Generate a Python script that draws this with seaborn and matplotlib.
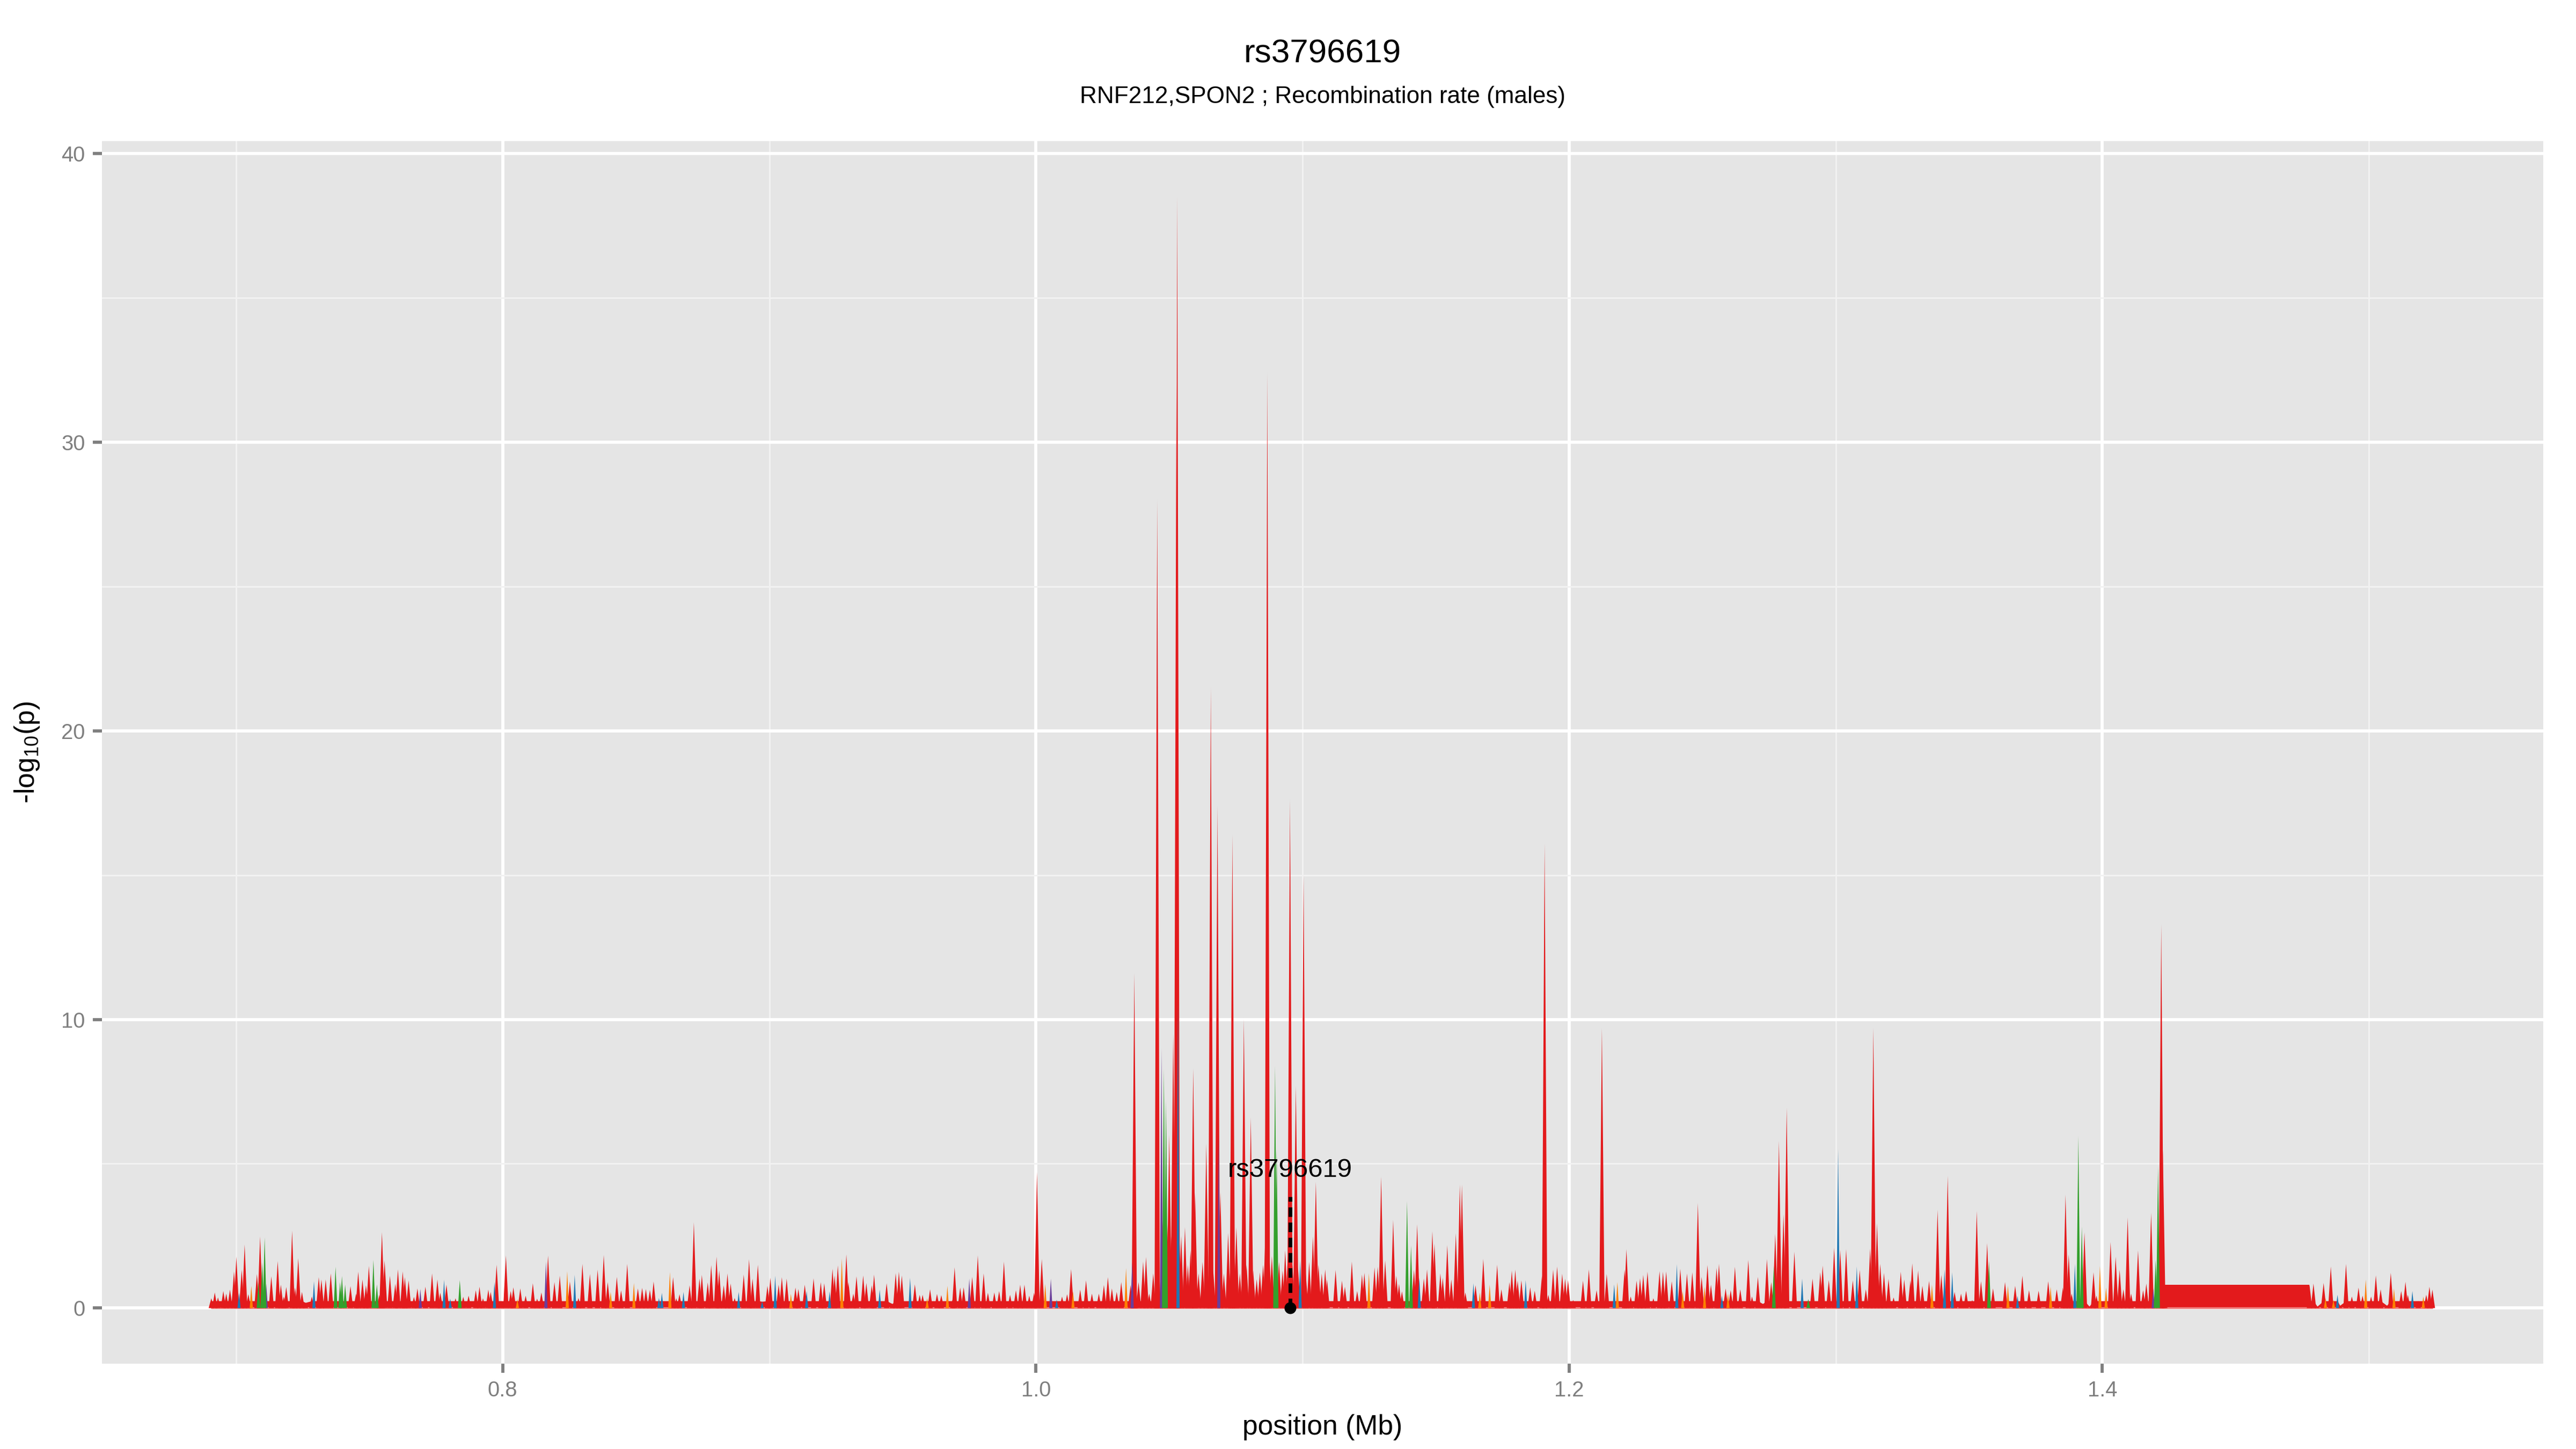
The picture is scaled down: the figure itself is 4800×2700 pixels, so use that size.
import numpy as np
import pandas as pd
import matplotlib
matplotlib.use("Agg")
import matplotlib.pyplot as plt
from matplotlib.ticker import MultipleLocator, FixedLocator
import seaborn as sns

# SNP positions (Mb), -log10(p) and LD colour class
pos = [
    0.6907, 0.6920, 0.6932, 0.6952, 0.6963, 0.6977, 0.6992, 0.7001, 0.7011, 0.7021,
    0.7032, 0.7046, 0.7057, 0.7078, 0.7084, 0.7090, 0.7098, 0.7107, 0.7113, 0.7132,
    0.7156, 0.7168, 0.7179, 0.7188, 0.7210, 0.7221, 0.7233, 0.7247, 0.7260, 0.7284,
    0.7292, 0.7310, 0.7320, 0.7336, 0.7355, 0.7373, 0.7390, 0.7397, 0.7409, 0.7429,
    0.7450, 0.7458, 0.7474, 0.7487, 0.7498, 0.7515, 0.7528, 0.7537, 0.7547, 0.7557,
    0.7577, 0.7597, 0.7607, 0.7625, 0.7633, 0.7647, 0.7667, 0.7680, 0.7691, 0.7710,
    0.7735, 0.7755, 0.7766, 0.7780, 0.7789, 0.7803, 0.7823, 0.7839, 0.7852, 0.7872,
    0.7899, 0.7913, 0.7926, 0.7946, 0.7955, 0.7969, 0.7977, 0.7994, 0.8012, 0.8030,
    0.8040, 0.8055, 0.8066, 0.8086, 0.8113, 0.8129, 0.8145, 0.8162, 0.8170, 0.8194,
    0.8214, 0.8242, 0.8252, 0.8270, 0.8284, 0.8299,
    0.8327, 0.8356, 0.8379, 0.8394, 0.8405, 0.8428, 0.8444, 0.8467, 0.8492, 0.8507,
    0.8523, 0.8537, 0.8552, 0.8566, 0.8586, 0.8597, 0.8627, 0.8639, 0.8651, 0.8663,
    0.8678, 0.8701, 0.8717, 0.8738, 0.8747, 0.8769, 0.8782, 0.8802, 0.8812, 0.8829,
    0.8843, 0.8855, 0.8870, 0.8885, 0.8904, 0.8924, 0.8937, 0.8957, 0.8973, 0.8993,
    0.9004, 0.9022, 0.9035, 0.9047, 0.9065, 0.9081, 0.9098, 0.9109, 0.9133, 0.9140,
    0.9166, 0.9193, 0.9206, 0.9226, 0.9237, 0.9245, 0.9257, 0.9272, 0.9289, 0.9297,
    0.9315, 0.9327, 0.9352, 0.9364, 0.9384, 0.9393, 0.9414, 0.9440, 0.9461, 0.9474,
    0.9486, 0.9497, 0.9528, 0.9546, 0.9564, 0.9575, 0.9592, 0.9603, 0.9629, 0.9645,
    0.9668, 0.9688,
    0.9695, 0.9716, 0.9729, 0.9750, 0.9761, 0.9782, 0.9804, 0.9820, 0.9844, 0.9862,
    0.9880, 0.9903, 0.9925, 0.9941, 0.9957, 0.9975, 0.9993, 1.0004, 1.0022, 1.0035,
    1.0056, 1.0078, 1.0098, 1.0117, 1.0132, 1.0139, 1.0166, 1.0188, 1.0210, 1.0236,
    1.0255, 1.0270, 1.0285, 1.0303, 1.0320,
    1.0338, 1.0355, 1.0361, 1.0366, 1.0369, 1.0373, 1.0385, 1.0402, 1.0413, 1.0425,
    1.0440, 1.0452, 1.0455, 1.0459, 1.0471, 1.0476, 1.0480, 1.0488, 1.0495, 1.0500,
    1.0508, 1.0515, 1.0522, 1.0527, 1.0530, 1.0533, 1.0537, 1.0545, 1.0559, 1.0570,
    1.0580, 1.0590, 1.0597, 1.0610, 1.0625, 1.0639, 1.0650, 1.0656, 1.0665, 1.0681,
    1.0686, 1.0692, 1.0705, 1.0721, 1.0730, 1.0737, 1.0745, 1.0752, 1.0765, 1.0780,
    1.0790, 1.0806, 1.0815, 1.0828, 1.0840, 1.0852, 1.0862, 1.0868, 1.0875, 1.0885,
    1.0897, 1.0903, 1.0912, 1.0925, 1.0935, 1.0945, 1.0953, 1.0962, 1.0975, 1.0983,
    1.0991, 1.1004, 1.1012, 1.1025, 1.1039, 1.1050, 1.1060, 1.1072,
    1.1085, 1.1092, 1.1124, 1.1148, 1.1159, 1.1185, 1.1205, 1.1223, 1.1232, 1.1249,
    1.1270, 1.1282, 1.1295, 1.1310, 1.1340, 1.1352, 1.1362, 1.1373, 1.1392, 1.1407,
    1.1418, 1.1430, 1.1438, 1.1455, 1.1467, 1.1487, 1.1495, 1.1517, 1.1526, 1.1543,
    1.1558, 1.1575, 1.1590, 1.1598, 1.1611, 1.1641, 1.1649, 1.1665, 1.1678, 1.1702,
    1.1730, 1.1746, 1.1776, 1.1785, 1.1798, 1.1807, 1.1821, 1.1837, 1.1854, 1.1871,
    1.1898, 1.1908, 1.1922, 1.1940, 1.1955, 1.1974, 1.1985, 1.1996, 1.2015, 1.2052,
    1.2074, 1.2103, 1.2123, 1.2141, 1.2169, 1.2181, 1.2208, 1.2215, 1.2231, 1.2253,
    1.2266, 1.2278, 1.2294, 1.2316, 1.2339, 1.2352, 1.2364, 1.2385, 1.2404, 1.2417,
    1.2426, 1.2442, 1.2462,
    1.2483, 1.2497, 1.2508, 1.2519, 1.2532, 1.2553, 1.2562, 1.2573, 1.2587, 1.2596,
    1.2606, 1.2622, 1.2642, 1.2672, 1.2686, 1.2708, 1.2726, 1.2742, 1.2758, 1.2768,
    1.2773, 1.2787, 1.2804, 1.2816, 1.2845, 1.2874, 1.2897, 1.2913, 1.2942, 1.2951,
    1.2974, 1.2994, 1.3009, 1.3017, 1.3039, 1.3064, 1.3079, 1.3090, 1.3113, 1.3129,
    1.3141, 1.3155, 1.3167, 1.3181, 1.3198, 1.3217, 1.3244, 1.3257, 1.3280, 1.3287,
    1.3309, 1.3325, 1.3350, 1.3361, 1.3382, 1.3396, 1.3408, 1.3420, 1.3437, 1.3446,
    1.3470, 1.3489, 1.3512, 1.3529, 1.3545, 1.3568, 1.3575, 1.3590, 1.3635, 1.3646,
    1.3673, 1.3682, 1.3700, 1.3725, 1.3761, 1.3797, 1.3806, 1.3829, 1.3852, 1.3862,
    1.3874, 1.3885, 1.3897, 1.3910, 1.3923, 1.3933, 1.3951, 1.3967, 1.3978, 1.3991,
    1.4014, 1.4031, 1.4050, 1.4065, 1.4079, 1.4095, 1.4108, 1.4134, 1.4153, 1.4165,
    1.4183, 1.4191, 1.4200, 1.4209, 1.4221, 1.4227, 1.4234, 1.4777, 1.4792, 1.4806,
    1.4830, 1.4837, 1.4857, 1.4867, 1.4882, 1.4891, 1.4914, 1.4936, 1.4961, 1.4976,
    1.4988, 1.5008, 1.5026, 1.5044, 1.5067, 1.5082, 1.5094, 1.5121, 1.5137, 1.5146,
    1.5163, 1.5185, 1.5204, 1.5215, 1.5227, 1.5238,
]

logp = [
    0.34, 0.54, 0.37, 0.59, 0.50, 0.64, 1.27, 1.78, 0.53, 1.33,
    2.20, 0.48, 0.77, 1.18, 0.90, 2.48, 1.58, 2.45, 0.84, 1.10,
    1.63, 0.81, 0.40, 0.73, 2.68, 0.71, 1.73, 0.56, 0.19, 0.40,
    0.93, 1.07, 0.99, 0.99, 1.20, 1.43, 0.90, 1.11, 0.81, 0.76,
    0.50, 1.26, 0.99, 0.79, 1.46, 1.67, 0.82, 0.46, 2.63, 1.65,
    1.12, 0.84, 1.34, 1.27, 1.07, 0.96, 0.39, 0.68, 0.66, 0.74,
    1.20, 0.99, 0.53, 0.98, 0.81, 0.33, 0.34, 0.97, 0.39, 0.43,
    0.62, 0.74, 0.34, 0.64, 0.56, 0.90, 1.50, 0.25, 1.82, 0.59,
    0.72, 0.31, 0.68, 0.43, 0.86, 0.33, 0.54, 1.61, 1.82, 0.90,
    1.12, 1.28, 0.92, 1.15, 0.35, 1.53,
    1.18, 1.33, 1.84, 0.90, 0.56, 1.08, 0.61, 1.53, 0.87, 0.68,
    0.70, 0.66, 0.63, 0.92, 0.35, 0.53, 1.25, 1.07, 0.34, 0.48,
    0.56, 0.79, 2.97, 1.02, 1.15, 0.89, 1.49, 1.78, 1.30, 0.79,
    1.20, 0.85, 0.35, 0.56, 1.16, 1.69, 1.02, 1.50, 0.23, 0.77,
    1.05, 1.12, 0.81, 1.07, 1.02, 0.49, 0.71, 0.66, 0.81, 0.59,
    1.03, 0.90, 0.86, 0.58, 1.36, 1.13, 1.48, 1.72, 1.86, 0.90,
    0.50, 1.10, 1.13, 0.87, 0.79, 1.16, 0.64, 0.86, 0.15, 1.21,
    1.26, 1.13, 1.05, 0.82, 0.46, 0.46, 0.34, 0.65, 0.49, 0.45,
    0.77, 0.31,
    1.41, 0.71, 0.72, 1.02, 1.08, 1.82, 1.20, 0.53, 0.54, 0.59,
    1.61, 0.46, 0.62, 0.81, 0.81, 0.43, 0.53, 4.71, 1.70, 0.84,
    1.02, 0.29, 0.40, 0.48, 1.35, 0.58, 0.64, 0.96, 0.50, 0.50,
    0.80, 1.07, 0.68, 0.56, 0.90,
    1.39, 0.80, 1.58, 1.20, 11.6, 0.90, 0.90, 1.61, 1.77, 0.50,
    1.20, 1.50, 28.0, 2.00, 9.00, 3.00, 8.30, 7.20, 3.00, 6.00,
    2.50, 9.50, 3.50, 32.0, 38.5, 10.6, 2.80, 2.50, 2.80, 1.50,
    2.00, 8.30, 4.00, 1.20, 1.60, 5.70, 1.50, 21.5, 1.30, 17.4,
    6.00, 4.00, 1.20, 2.60, 1.50, 16.4, 1.80, 2.80, 1.20, 10.0,
    1.50, 6.60, 1.30, 1.00, 1.24, 1.50, 3.00, 32.4, 2.00, 1.80,
    8.40, 5.50, 1.60, 1.30, 2.00, 1.80, 17.6, 1.50, 7.70, 1.40,
    1.64, 15.0, 1.20, 1.60, 2.48, 4.37, 1.50, 1.20,
    1.34, 0.99, 1.32, 0.95, 0.74, 1.61, 0.59, 1.16, 1.22, 1.21,
    1.41, 1.43, 4.55, 1.65, 3.05, 1.12, 0.84, 0.58, 3.70, 2.17,
    1.33, 2.90, 1.05, 1.03, 1.34, 2.66, 2.23, 1.20, 1.05, 2.18,
    0.99, 2.59, 4.28, 4.28, 0.54, 0.86, 0.79, 0.54, 1.70, 0.81,
    1.50, 0.65, 0.90, 1.30, 1.33, 0.95, 0.96, 0.97, 0.72, 0.60,
    1.12, 16.1, 0.46, 1.33, 1.44, 1.19, 1.02, 0.97, 0.28, 0.95,
    1.34, 0.62, 9.70, 1.18, 0.82, 0.90, 1.33, 2.04, 0.40, 0.95,
    1.03, 1.15, 1.26, 0.34, 1.28, 1.26, 1.27, 0.93, 1.52, 1.36,
    0.59, 1.20, 1.24,
    3.64, 1.08, 0.74, 1.49, 0.81, 1.39, 1.53, 0.43, 0.68, 0.50,
    0.62, 1.43, 0.65, 1.67, 0.40, 1.08, 0.15, 1.70, 0.90, 1.46,
    2.57, 5.79, 3.25, 6.94, 1.95, 1.02, 0.31, 1.02, 1.24, 1.47,
    0.97, 2.09, 5.50, 2.01, 2.04, 0.96, 1.44, 1.32, 0.65, 2.06,
    9.70, 2.94, 1.53, 1.22, 1.01, 0.37, 1.26, 0.99, 0.96, 1.55,
    1.30, 0.77, 0.94, 0.81, 3.41, 1.15, 1.34, 4.58, 1.24, 0.56,
    0.50, 0.60, 0.28, 3.36, 0.93, 2.25, 1.63, 0.68, 0.90, 0.77,
    0.77, 0.42, 1.12, 0.62, 0.60, 0.93, 0.74, 0.65, 0.71, 3.93,
    1.86, 0.50, 1.53, 5.96, 2.82, 2.62, 0.06, 1.24, 0.43, 1.46,
    0.71, 2.29, 1.78, 1.33, 0.65, 3.14, 0.50, 2.00, 0.62, 0.85,
    3.30, 0.68, 1.67, 4.93, 13.3, 5.48, 0.81, 0.81, 0.85, 0.06,
    0.87, 0.34, 1.44, 0.28, 0.46, 0.09, 1.53, 0.40, 0.71, 0.43,
    0.99, 0.40, 1.13, 0.65, 0.09, 1.22, 0.68, 0.59, 0.91, 0.46,
    0.59, 0.25, 0.40, 0.46, 0.74, 0.64,
]

# r = red, b = blue, g = green, o = orange, p = purple (one letter per snp)
ld = list(
    "rrrrrrrrbr" "rrorgrggpr" "rrrrrrrrrr" "brrrrggggr" "rrrrrggrrr"
    "rrrrrrrrpr" "rrrbrbrgrr" "rrrrrbrrrr" "rorrrrrprr" "rorbrr"
    "rrrrorrror" "rrrrbborrr" "brrrrrrrrr" "rrrbrrrrbr" "rbrrrorrrb"
    "rrrbrrrorr" "rrrrrrbrrr" "rrbrrrorrr" "or"
    "rrrprrrrrr" "rrrrrrrrro" "pbrrrorrrr" "rrrrr"
    "orprrrrrrr" "rrrrprggrr" "rrrrrbrrrr" "rrrrrrrrrr" "prrrrrrrrr"
    "rrrrrrrrrr" "ggrrrrrrrr" "brrrrrrr"
    "rrrrrrrrro" "rrrrrrrrgg" "rrbrrrrrrr" "rrrrrbroro" "rrrrrrrbrr"
    "rrrrrrrrrr" "rrrrborrrr" "rrrrrrrrbr" "orr"
    "rrorrrrbro" "rrrrrrrrrg" "rrrrrbgrrr" "rrbrrrbrrr" "rrrrrrrrrr"
    "rrrorrbrbr" "rrrrrrgrro" "rbrrrrorrr"
    "rrbggrrrro" "orrrrrrrrr" "rpggrrrrrr" "rorobrrrrr" "orrrrrorrr"
    "brorrr"
)

index_snp = "rs3796619"
index_pos = 1.0953
title = "rs3796619"
subtitle = "RNF212,SPON2 ; Recombination rate (males)"
x_ticks = [0.8, 1.0, 1.2, 1.4]
y_ticks = [0, 10, 20, 30, 40]

df = pd.DataFrame({"pos": pos, "logp": logp, "ld": ld}).sort_values("pos")

palette = {"r": "#E31A1C", "b": "#1F78B4", "g": "#33A02C", "o": "#FF7F00", "p": "#6A3D9A"}

sns.set_theme(style="darkgrid", rc={
    "axes.facecolor": "#E5E5E5",
    "figure.facecolor": "white",
    "grid.color": "white",
})
plt.rcParams["font.family"] = ["Liberation Sans", "DejaVu Sans"]
plt.rcParams["mathtext.fontset"] = "custom"
plt.rcParams["mathtext.rm"] = "Liberation Sans"
plt.rcParams["mathtext.it"] = "Liberation Sans:italic"

fig, ax = plt.subplots(figsize=(16, 9), dpi=300)
fig.subplots_adjust(left=0.0396, right=0.9873, bottom=0.0589, top=0.9026)

x = df["pos"].to_numpy()
y = df["logp"].to_numpy()

# low red floor joining the snps, plus the long stretch with no snps
ax.fill_between(x, 0, np.minimum(y, 0.25), color=palette["r"], lw=0, zorder=2)
gaps = np.where(np.diff(x) > 0.01)[0]
for i in gaps:
    ax.fill_between(x[i:i + 2], 0, y[i:i + 2], color=palette["r"], lw=0, zorder=2)
ax.plot([x.min(), x.max()], [0, 0], color="#F08080", lw=0.8, zorder=2)

# one needle per snp, red first and the other LD classes on top
for cls, hw in [("r", 0.0010), ("o", 0.0006), ("b", 0.0006), ("p", 0.0006), ("g", 0.0007)]:
    sub = df[df["ld"] == cls]
    for p_, h_ in zip(sub["pos"], sub["logp"]):
        ax.fill([p_ - hw, p_, p_ + hw], [0, h_, 0], color=palette[cls], lw=0, zorder=3)

# index snp
ax.plot([index_pos, index_pos], [0, 3.85], color="black", lw=1.7,
        dashes=(2.5, 1.5), zorder=4)
sns.scatterplot(x=[index_pos], y=[0], color="black", s=28, edgecolor="black",
                linewidth=0, ax=ax, zorder=5)
ax.text(index_pos, 4.77, index_snp, ha="center", va="center", fontsize=11.8,
        color="black", zorder=5)

ax.set_xlim(0.6497, 1.5654)
ax.set_ylim(-1.925, 40.425)
ax.xaxis.set_major_locator(FixedLocator(x_ticks))
ax.yaxis.set_major_locator(FixedLocator(y_ticks))
ax.xaxis.set_minor_locator(MultipleLocator(0.1))
ax.yaxis.set_minor_locator(MultipleLocator(5))
ax.set_xticklabels([f"{t:.1f}" for t in x_ticks])
ax.set_yticklabels([str(t) for t in y_ticks])

ax.grid(which="major", color="white", lw=1.4)
ax.grid(which="minor", color="#F2F2F2", lw=0.7)
ax.set_axisbelow(True)
for s in ax.spines.values():
    s.set_visible(False)
ax.tick_params(which="major", length=4, width=1.4, color="#7F7F7F",
               labelcolor="#7F7F7F", labelsize=9.6, pad=3.5,
               bottom=True, left=True)
ax.tick_params(which="minor", length=0)

ax.set_xlabel("position (Mb)", fontsize=12.4, color="black")
ax.set_ylabel(r"-log$_{10}$(p)", fontsize=12.4, color="black")
ax.xaxis.set_label_coords(0.5, -0.0414)
ax.yaxis.set_label_coords(-0.0248, 0.5)

cx = (0.0396 + 0.9873) / 2
fig.text(cx, 0.9626, title, ha="center", va="center", fontsize=14.9, color="black")
fig.text(cx, 0.933, subtitle, ha="center", va="center", fontsize=10.6, color="black")

fig.savefig("out.png", dpi=300)
